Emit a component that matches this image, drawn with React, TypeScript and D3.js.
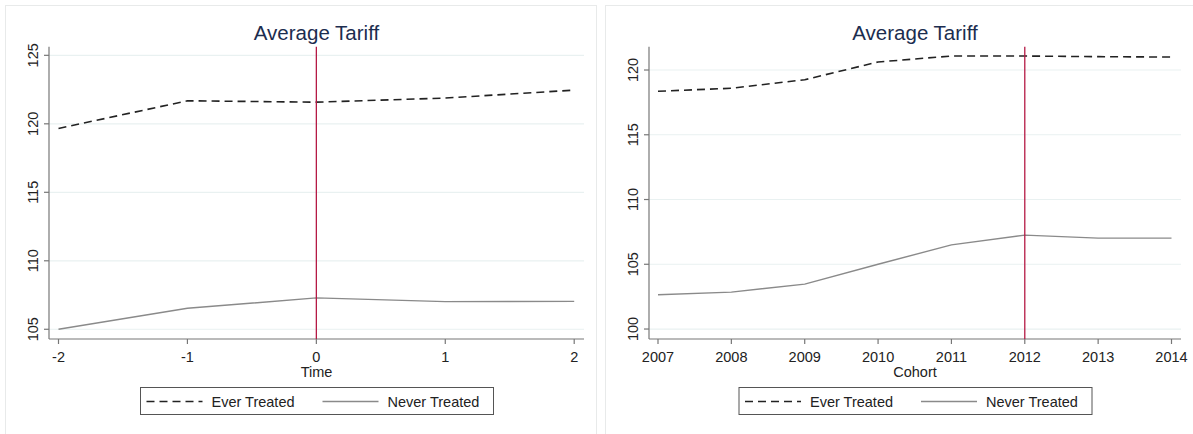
import React from 'react';
import * as d3 from 'd3';

// left panel: event time
const timeCats = [-2, -1, 0, 1, 2];
const timeEver = [119.66, 121.68, 121.58, 121.88, 122.46];
const timeNever = [105.0, 106.53, 107.29, 107.02, 107.04];
const timeYTicks = [105, 110, 115, 120, 125];

// right panel: cohort
const cohortCats = [2007, 2008, 2009, 2010, 2011, 2012, 2013, 2014];
const cohortEver = [118.36, 118.59, 119.25, 120.62, 121.08, 121.08, 121.03, 121.0];
const cohortNever = [102.65, 102.85, 103.47, 105.0, 106.5, 107.25, 107.02, 107.02];
const cohortYTicks = [100, 105, 110, 115, 120];

const FONT = '"Liberation Sans", Arial, sans-serif';

type PanelProps = {
  ox: number;
  cats: number[];
  ever: number[];
  never: number[];
  yTicks: number[];
  yDomain: [number, number];
  xRange: [number, number];
  axisLeft: number;
  axisRight: number;
  vline: number;
  xTitle: string;
};

const Panel = ({ ox, cats, ever, never, yTicks, yDomain, xRange, axisLeft, axisRight, vline, xTitle }: PanelProps) => {
  const top = 46.7;
  const bottom = 339;
  const x = d3.scaleLinear().domain([cats[0], cats[cats.length - 1]]).range(xRange);
  const y = d3.scaleLinear().domain(yDomain).range([bottom, top]);
  const line = d3.line<number>().x((_, i) => x(cats[i])).y(d => y(d));
  const mid = (axisLeft + axisRight) / 2;
  const legX = mid - 176;

  return (
    <g transform={`translate(${ox},0)`}>
      <rect x={5.5} y={5.5} width={591} height={430} fill="white" stroke="#e8eaea" strokeWidth={1} />
      <text x={mid} y={40} textAnchor="middle" fontSize={20.5} fill="#1c2d4f" fontFamily={FONT}>Average Tariff</text>

      {/* grid */}
      {yTicks.map(t => (
        <line key={'g' + t} x1={axisLeft} x2={axisRight} y1={y(t)} y2={y(t)} stroke="#e9f1f1" strokeWidth={1.2} />
      ))}

      {/* axes */}
      <line x1={axisLeft} x2={axisLeft} y1={top} y2={bottom} stroke="#777" strokeWidth={1.2} />
      <line x1={axisLeft} x2={axisRight} y1={bottom} y2={bottom} stroke="#777" strokeWidth={1.2} />
      {yTicks.map(t => (
        <g key={'y' + t}>
          <line x1={axisLeft - 5} x2={axisLeft} y1={y(t)} y2={y(t)} stroke="#777" strokeWidth={1.2} />
          <text
            transform={`translate(${axisLeft - 11},${y(t)}) rotate(-90)`}
            textAnchor="middle"
            fontSize={14.5}
            fill="#222"
            fontFamily={FONT}
          >
            {t}
          </text>
        </g>
      ))}
      {cats.map(c => (
        <g key={'x' + c}>
          <line x1={x(c)} x2={x(c)} y1={bottom} y2={bottom + 5} stroke="#777" strokeWidth={1.2} />
          <text x={x(c)} y={bottom + 23} textAnchor="middle" fontSize={14.5} fill="#222" fontFamily={FONT}>{c}</text>
        </g>
      ))}
      <text x={mid} y={377} textAnchor="middle" fontSize={14.5} fill="#222" fontFamily={FONT}>{xTitle}</text>

      {/* series */}
      <path d={line(never) || ''} fill="none" stroke="#8a8a8a" strokeWidth={1.4} />
      <path d={line(ever) || ''} fill="none" stroke="#222" strokeWidth={1.6} strokeDasharray="8,5" />
      <line x1={x(vline)} x2={x(vline)} y1={top} y2={bottom} stroke="#b51a45" strokeWidth={1.3} />

      {/* legend */}
      <rect x={legX} y={387.5} width={353} height={27} fill="white" stroke="#555" strokeWidth={1} />
      <line x1={legX + 6} x2={legX + 62} y1={401.5} y2={401.5} stroke="#222" strokeWidth={1.6} strokeDasharray="8,5" />
      <text x={legX + 71} y={406.5} fontSize={14.5} fill="#222" fontFamily={FONT}>Ever Treated</text>
      <line x1={legX + 182} x2={legX + 238} y1={401.5} y2={401.5} stroke="#8a8a8a" strokeWidth={1.4} />
      <text x={legX + 247} y={406.5} fontSize={14.5} fill="#222" fontFamily={FONT}>Never Treated</text>
    </g>
  );
};

const App = () => {
  return (
    <svg width={1193} height={434} style={{ position: 'absolute', left: 0, top: 0, background: 'white' }}>
      <Panel
        ox={0}
        cats={timeCats}
        ever={timeEver}
        never={timeNever}
        yTicks={timeYTicks}
        yDomain={[104.29, 125.63]}
        xRange={[58.5, 574.2]}
        axisLeft={49}
        axisRight={584}
        vline={0}
        xTitle="Time"
      />
      <Panel
        ox={600}
        cats={cohortCats}
        ever={cohortEver}
        never={cohortNever}
        yTicks={cohortYTicks}
        yDomain={[99.23, 121.8]}
        xRange={[58, 571.5]}
        axisLeft={49}
        axisRight={581}
        vline={2012}
        xTitle="Cohort"
      />
    </svg>
  );
};

export default App;
